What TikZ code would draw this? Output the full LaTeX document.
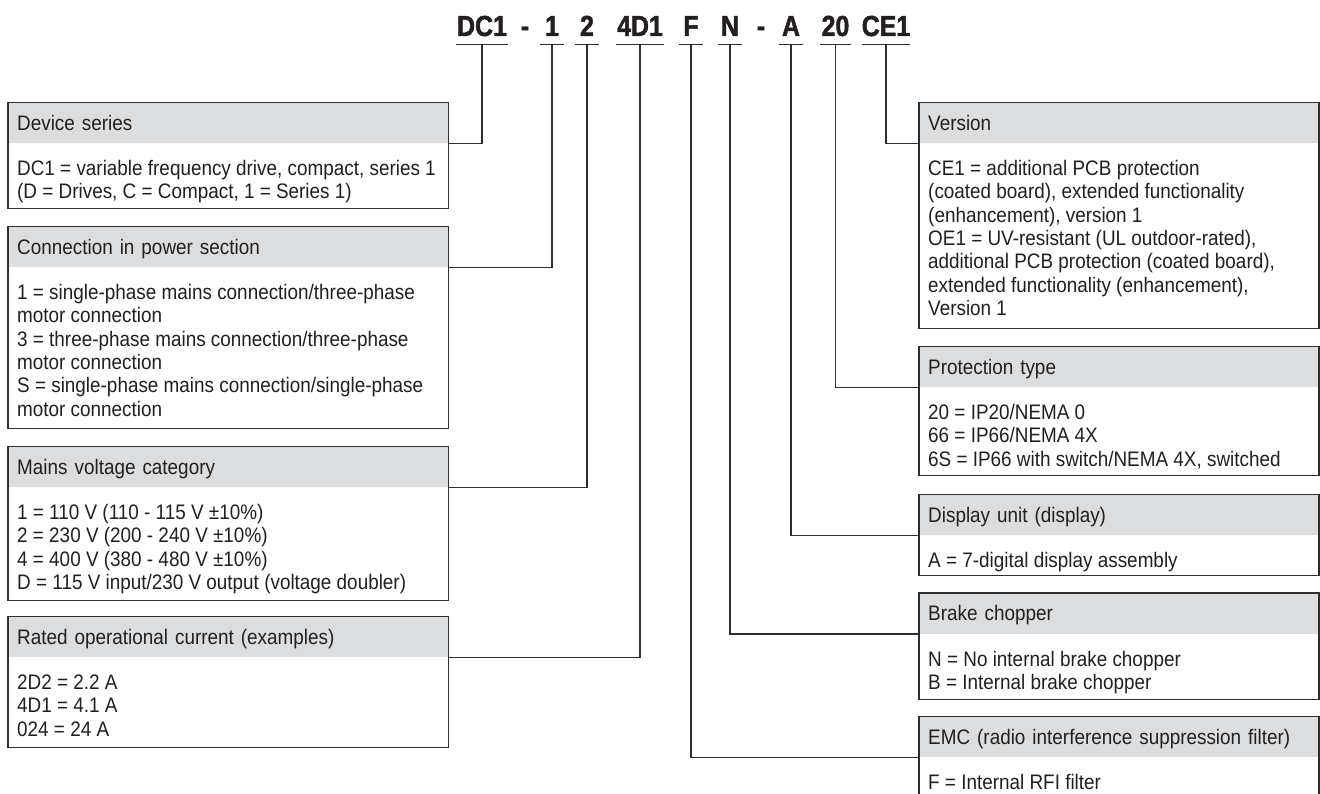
\documentclass[tikz,border=0pt]{standalone}
\usepackage{fontspec}
\setmainfont{Liberation Sans}[FakeStretch=0.9]
\newfontfamily\codefont{Liberation Sans}[FakeStretch=0.86,BoldFeatures={FakeBold=1.6}]
\newcommand{\bxfont}{\fontsize{21}{23.3}\selectfont}
\newcommand{\fs}{\rule{0pt}{32pt}}
\newcommand{\ls}[1]{\rule[-#1pt]{0pt}{#1pt}}
\definecolor{ink}{HTML}{231F20}
\definecolor{hdrgray}{HTML}{DCDDDE}
\definecolor{linec}{HTML}{2E2E2E}
\tikzset{
  code/.style={anchor=base, inner xsep=0pt, inner ysep=8pt, text depth=0pt,
    font=\codefont\bfseries\fontsize{29}{30}\selectfont, text=ink},
  hdrL/.style={anchor=north west, fill=hdrgray, inner xsep=9pt, inner ysep=0pt,
    minimum width=440pt, text width=422pt, minimum height=40.5pt,
    text height=15pt, text depth=0pt, align=left, font=\bxfont, text=ink},
  hdrR/.style={hdrL, minimum width=399.5pt, text width=381.5pt},
  body/.style={anchor=north west, inner sep=0pt, align=left, font=\bxfont, text=ink},
  frame/.style={draw=linec, line width=1.2pt},
  conn/.style={draw=linec, line width=1.2pt}
}
\begin{document}
\begin{tikzpicture}[x=1pt,y=-1pt]
\useasboundingbox (0,0) rectangle (1320,794);
\fill[white] (0,0) rectangle (1320,794);

% type code
\node[code, minimum width=52pt] (tDC1) at (482,36) {DC1};
\node[code] (dashA) at (525,36) {-};
\node[code, minimum width=24pt] (t1) at (552,36) {1};
\node[code, minimum width=24pt] (t2) at (587,36) {2};
\node[code, minimum width=47pt] (t4D1) at (640,36) {4D1};
\node[code, minimum width=24pt] (tF) at (691,36) {F};
\node[code, minimum width=24pt] (tN) at (730,36) {N};
\node[code] (dashB) at (761,36) {-};
\node[code, minimum width=23pt] (tA) at (791,36) {A};
\node[code, minimum width=30pt] (t20) at (835.5,36) {20};
\node[code, minimum width=46pt] (tCE1) at (886,36) {CE1};
\foreach \n in {tDC1,t1,t2,t4D1,tF,tN,tA,t20,tCE1}
  \draw[conn] (\n.south west) -- (\n.south east);

% left boxes
\node[hdrL] (hDev) at (8,102.5) {Device series};
\node[body] (bDev) at ([xshift=9pt]hDev.south west)
  {\fs DC1 = variable frequency drive, compact, series 1\\(D = Drives, C = Compact, 1 = Series 1)\ls{9.7}};

\node[hdrL] (hCon) at (8,226.5) {Connection in power section};
\node[body] (bCon) at ([xshift=9pt]hCon.south west)
  {\fs 1 = single-phase mains connection/three-phase\\motor connection\\3 = three-phase mains connection/three-phase\\motor connection\\S = single-phase mains connection/single-phase\\motor connection\ls{12.5}};

\node[hdrL] (hMains) at (8,446.5) {Mains voltage category};
\node[body] (bMains) at ([xshift=9pt]hMains.south west)
  {\fs 1 = 110 V (110 - 115 V ±10\%)\\2 = 230 V (200 - 240 V ±10\%)\\4 = 400 V (380 - 480 V ±10\%)\\D = 115 V input/230 V output (voltage doubler)\ls{11.1}};

\node[hdrL] (hRated) at (8,616.5) {Rated operational current (examples)};
\node[body] (bRated) at ([xshift=9pt]hRated.south west)
  {\fs 2D2 = 2.2 A\\4D1 = 4.1 A\\024 = 24 A\ls{11.4}};

% right boxes
\node[hdrR] (hVer) at (919,102.5) {Version};
\node[body] (bVer) at ([xshift=9pt]hVer.south west)
  {\fs CE1 = additional PCB protection\\(coated board), extended functionality\\(enhancement), version 1\\OE1 = UV-resistant (UL outdoor-rated),\\additional PCB protection (coated board),\\extended functionality (enhancement),\\Version 1\ls{13.2}};

\node[hdrR] (hProt) at (919,346.5) {Protection type};
\node[body] (bProt) at ([xshift=9pt]hProt.south west)
  {\fs 20 = IP20/NEMA 0\\66 = IP66/NEMA 4X\\6S = IP66 with switch/NEMA 4X, switched\ls{9.4}};

\node[hdrR] (hDisp) at (919,494.5) {Display unit (display)};
\node[body] (bDisp) at ([xshift=9pt]hDisp.south west)
  {\fs A = 7-digital display assembly\ls{8}};

\node[hdrR] (hBrake) at (919,593) {Brake chopper};
\node[body] (bBrake) at ([xshift=9pt]hBrake.south west)
  {\fs N = No internal brake chopper\\B = Internal brake chopper\ls{10.2}};

\node[hdrR] (hEMC) at (919,716.5) {EMC (radio interference suppression filter)};
\node[body] (bEMC) at ([xshift=9pt]hEMC.south west)
  {\fs F = Internal RFI filter\ls{30}};

% frames
\foreach \h/\b in {hDev/bDev,hCon/bCon,hMains/bMains,hRated/bRated,hVer/bVer,hProt/bProt,hDisp/bDisp,hBrake/bBrake,hEMC/bEMC}
  \draw[frame] (\h.north west) rectangle (\h.east |- \b.south);

% connectors
\draw[conn] (tDC1.south) |- (hDev.south east);
\draw[conn] (t1.south) |- (hCon.south east);
\draw[conn] (t2.south) |- (hMains.south east);
\draw[conn] (t4D1.south) |- (hRated.south east);
\draw[conn] (tF.south) |- (hEMC.south west);
\draw[conn] (tN.south) |- (hBrake.south west);
\draw[conn] (tA.south) |- (hDisp.south west);
\draw[conn] (t20.south) |- (hProt.south west);
\draw[conn] (tCE1.south) |- (hVer.south west);
\end{tikzpicture}
\end{document}
